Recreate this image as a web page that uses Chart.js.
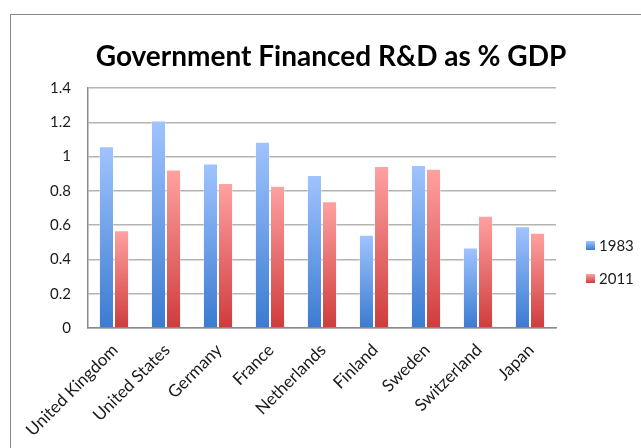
<!DOCTYPE html>
<html>
<head>
<meta charset="utf-8">
<script src="https://cdn.jsdelivr.net/npm/chart.js@4.4.1/dist/chart.umd.min.js"></script>
<style>
  html, body { margin: 0; padding: 0; background: #fff; overflow: hidden; }
  #wrap { position: relative; width: 641px; height: 448px; overflow: hidden; }
  #frame {
    position: absolute; left: 10px; top: 14px;
    width: 700px; height: 500px;
    border: 1px solid #8a8a8a;
  }
  #chart { position: absolute; left: 0; top: 0; }
</style>
</head>
<body>
<div id="wrap">
  <div id="frame"></div>
  <canvas id="chart" width="641" height="448"></canvas>
</div>
<script>
const countries = ['United Kingdom', 'United States', 'Germany', 'France', 'Netherlands',
                   'Finland', 'Sweden', 'Switzerland', 'Japan'];
const years = ['1983', '2011'];
const share1983 = [1.06, 1.21, 0.96, 1.087, 0.892, 0.544, 0.951, 0.47, 0.593];
const share2011 = [0.57, 0.925, 0.846, 0.83, 0.739, 0.945, 0.929, 0.655, 0.556];
const yTicks = [0, 0.2, 0.4, 0.6, 0.8, 1, 1.2, 1.4];

// light (top) -> dark (bottom) for each series
const blueStops = ['#a0c4ff', '#3b7bd0'];
const redStops = ['#ffa2a2', '#cf3c3c'];

function vertGradient(ctx, top, bottom, stops) {
  const g = ctx.createLinearGradient(0, top, 0, bottom);
  g.addColorStop(0, stops[0]);
  g.addColorStop(1, stops[1]);
  return g;
}

// every bar gets its own gradient, from its top down to the zero line
function barFill(stops) {
  return (c) => {
    const chart = c.chart;
    if (!chart.chartArea || c.raw == null) return stops[1];
    const y = chart.scales.y;
    return vertGradient(chart.ctx, y.getPixelForValue(c.raw), y.getPixelForValue(0), stops);
  };
}

// legend sits on the right, outside the plot
const sideLegend = {
  id: 'sideLegend',
  afterDraw(chart) {
    const ctx = chart.ctx;
    const x = 586, y0 = 241, gap = 33, size = 9;
    ctx.save();
    chart.data.datasets.forEach((ds, i) => {
      const y = y0 + i * gap;
      ctx.fillStyle = vertGradient(ctx, y, y + size, ds.stops);
      ctx.fillRect(x, y, size, size);
      ctx.fillStyle = '#1a1a1a';
      ctx.font = '15px Lato';
      ctx.textBaseline = 'middle';
      ctx.textAlign = 'left';
      ctx.fillText(ds.label, x + 13, y + size / 2 + 0.5);
    });
    ctx.restore();
  }
};

new Chart(document.getElementById('chart'), {
  type: 'bar',
  data: {
    labels: countries,
    datasets: [
      { label: years[0], data: share1983, stops: blueStops, backgroundColor: barFill(blueStops),
        borderColor: 'rgba(255,255,255,0.35)', borderWidth: 1 },
      { label: years[1], data: share2011, stops: redStops, backgroundColor: barFill(redStops),
        borderColor: 'rgba(255,255,255,0.35)', borderWidth: 1 }
    ]
  },
  options: {
    responsive: false,
    animation: false,
    layout: { padding: { left: 21, right: 0, top: 0, bottom: 0 } },
    datasets: { bar: { categoryPercentage: 0.58, barPercentage: 1 } },
    plugins: {
      legend: { display: false },
      tooltip: { enabled: false },
      title: {
        display: true,
        text: 'Government Financed R&D as % GDP',
        color: '#000',
        font: { family: 'Lato', size: 28, weight: 'bold', lineHeight: 1.2 },
        padding: { top: 40, bottom: 14.4 }
      }
    },
    scales: {
      x: {
        grid: { display: false, drawTicks: false },
        border: { display: true, color: '#8a8a8a', width: 1.5 },
        ticks: {
          color: '#1a1a1a',
          font: { family: 'Lato', size: 17 },
          minRotation: 45, maxRotation: 45,
          autoSkip: false,
          padding: 12,
          labelOffset: 1
        },
        afterFit(scale) { scale.height = 120; }
      },
      y: {
        min: 0, max: 1.4,
        grid: { color: '#b4b4b4', lineWidth: 1.5, drawTicks: false },
        border: { display: true, color: '#8a8a8a', width: 1.5 },
        afterBuildTicks(scale) { scale.ticks = yTicks.map(v => ({ value: v })); },
        ticks: {
          color: '#1a1a1a',
          font: { family: 'Lato', size: 15 },
          padding: 17,
          callback: (v) => String(v)
        },
        afterFit(scale) { scale.width = 67; }
      },
      // empty strip on the right that holds the legend
      side: {
        type: 'linear',
        position: 'right',
        grid: { display: false, drawTicks: false },
        border: { display: false },
        ticks: { display: false },
        afterFit(scale) { scale.width = 85; }
      }
    }
  },
  plugins: [sideLegend]
});
</script>
</body>
</html>
